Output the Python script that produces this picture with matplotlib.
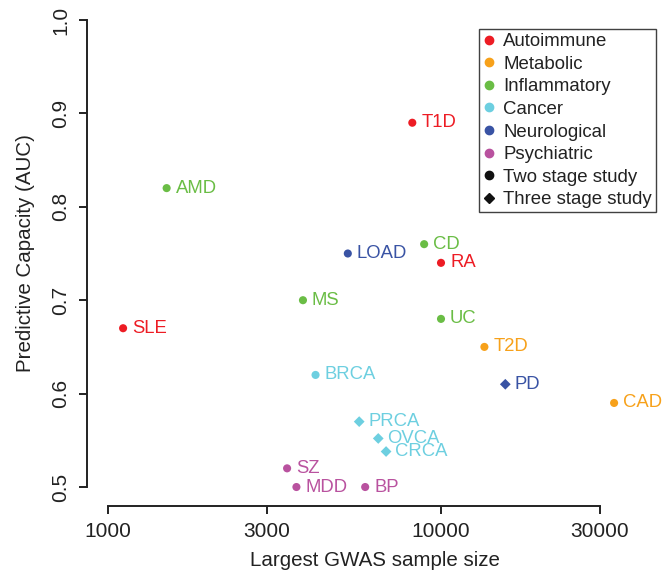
import matplotlib
matplotlib.use("Agg")
import matplotlib.pyplot as plt
from matplotlib.lines import Line2D

plt.rcParams['font.family'] = ['Liberation Sans', 'DejaVu Sans']

# disease, sample size, AUC, category, study design
diseases = ['T1D', 'AMD', 'LOAD', 'CD', 'RA', 'MS', 'SLE', 'UC', 'T2D', 'BRCA',
            'PD', 'CAD', 'PRCA', 'OVCA', 'CRCA', 'SZ', 'MDD', 'BP']
sample_size = [8200, 1500, 5250, 8900, 10000, 3850, 1110, 10000, 13500, 4200,
               15600, 33100, 5680, 6480, 6840, 3450, 3680, 5920]
auc = [0.89, 0.82, 0.75, 0.76, 0.74, 0.70, 0.67, 0.68, 0.65, 0.62,
       0.61, 0.59, 0.57, 0.552, 0.538, 0.52, 0.50, 0.50]
category = ['Autoimmune', 'Inflammatory', 'Neurological', 'Inflammatory', 'Autoimmune',
            'Inflammatory', 'Autoimmune', 'Inflammatory', 'Metabolic', 'Cancer',
            'Neurological', 'Metabolic', 'Cancer', 'Cancer', 'Cancer',
            'Psychiatric', 'Psychiatric', 'Psychiatric']
stages = [2, 2, 2, 2, 2, 2, 2, 2, 2, 2, 3, 2, 3, 3, 3, 2, 2, 2]

categories = ['Autoimmune', 'Metabolic', 'Inflammatory', 'Cancer', 'Neurological', 'Psychiatric']
cat_colors = ['#ED1C24', '#F7A11A', '#6ABD45', '#6DCFE0', '#3953A4', '#B9529F']
colmap = dict(zip(categories, cat_colors))

W, H = 671, 578
fig = plt.figure(figsize=(W / 100, H / 100), dpi=100)
ax = fig.add_axes([87 / W, 1 - 505.7 / H, (663 - 87) / W, (505.7 - 1.3) / H])

for name, x, y, cat, st in zip(diseases, sample_size, auc, category, stages):
    c = colmap[cat]
    ax.scatter([x], [y], s=34 if st == 2 else 30, marker='o' if st == 2 else 'D',
               color=c, edgecolors='none', zorder=3)
    ax.annotate(name, (x, y), xytext=(6.5, 0), textcoords='offset points',
                va='center', ha='left', color=c, fontsize=13.3)

ax.set_xscale('log')
ax.set_xlim(10 ** (3 - 21 / 333), 10 ** (3 + 555 / 333))
ax.set_ylim(0.48, 1.02)
ax.set_xticks([1000, 3000, 10000, 30000])
ax.set_xticklabels(['1000', '3000', '10000', '30000'])
ax.xaxis.set_minor_locator(matplotlib.ticker.NullLocator())
ax.set_yticks([0.5, 0.6, 0.7, 0.8, 0.9, 1.0])
ax.set_yticklabels(['0.5', '0.6', '0.7', '0.8', '0.9', '1.0'], rotation=90, va='center')

for s in ['top', 'right']:
    ax.spines[s].set_visible(False)
ax.spines['left'].set_bounds(0.5, 1.0)
ax.spines['bottom'].set_bounds(1000, 30000)
for s in ['left', 'bottom']:
    ax.spines[s].set_linewidth(1.4)
    ax.spines[s].set_color('#222222')
ax.tick_params(axis='both', length=6, width=1.4, color='#222222',
               labelsize=15, labelcolor='#222222', pad=6)

ax.set_xlabel('Largest GWAS sample size', fontsize=14.8, color='#222222', labelpad=7)
ax.set_ylabel('Predictive Capacity (AUC)', fontsize=14.8, color='#222222', labelpad=12)

handles = [Line2D([], [], marker='o', ls='none', color=c, markersize=6) for c in cat_colors]
handles.append(Line2D([], [], marker='o', ls='none', color='#111111', markersize=6))
handles.append(Line2D([], [], marker='D', ls='none', color='#111111', markersize=5.5))
labels = categories + ['Two stage study', 'Three stage study']
leg = fig.legend(handles, labels, loc='upper right', bbox_to_anchor=(656 / W, 1 - 29 / H),
                 bbox_transform=fig.transFigure, borderaxespad=0, fontsize=13.4,
                 frameon=True, fancybox=False, edgecolor='#111111', handlelength=0.7,
                 handletextpad=0.4, labelspacing=0.3, borderpad=0.22)
leg.get_frame().set_linewidth(1.0)
for t in leg.get_texts():
    t.set_color('#222222')

fig.savefig('out.png', dpi=100)
